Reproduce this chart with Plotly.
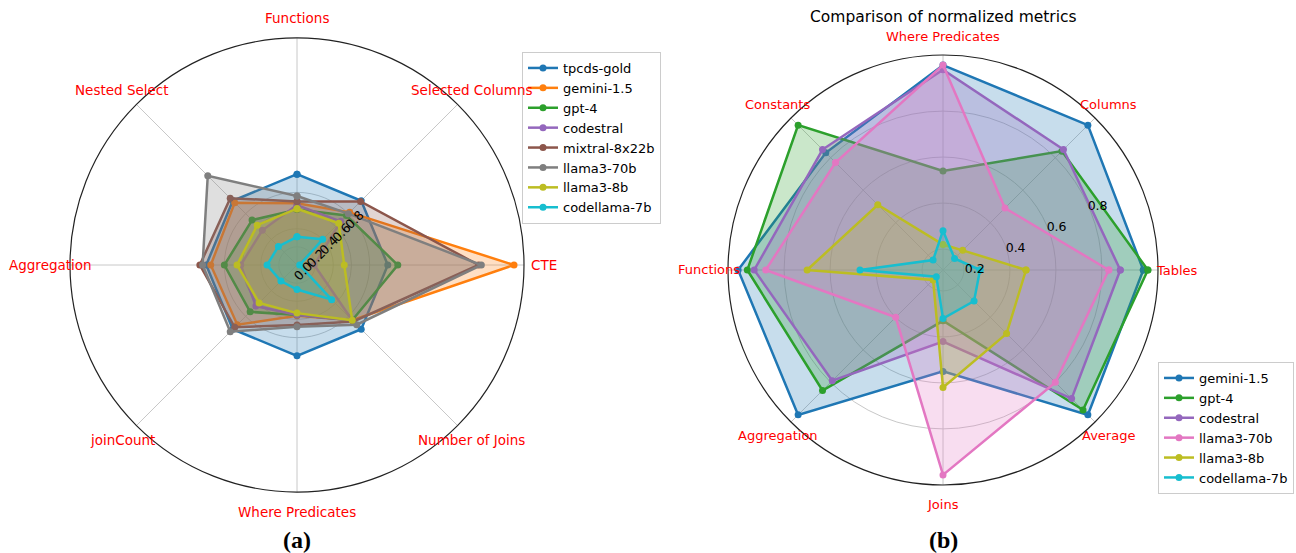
import math
import plotly.graph_objects as go

# ---------------- data: chart (a) ----------------
cats_a = ["Functions", "Selected Columns", "CTE", "Number of Joins",
          "Where Predicates", "joinCount", "Aggregation", "Nested Select"]
models_a = ["tpcds-gold", "gemini-1.5", "gpt-4", "codestral",
            "mixtral-8x22b", "llama3-70b", "llama3-8b", "codellama-7b"]
tpcds_gold_a = [1.0, 1.0, 1.0, 1.0, 1.0, 1.0, 1.0, 1.0]
gemini_a = [0.68, 0.82, 2.39, 0.86, 0.56, 0.93, 0.95, 0.97]
gpt4_a = [0.61, 0.77, 1.11, 0.86, 0.55, 0.73, 0.80, 0.70]
codestral_a = [0.66, 0.68, 0.19, 0.86, 0.55, 0.64, 0.62, 0.54]
mixtral_a = [0.70, 0.99, 2.00, 0.88, 0.66, 0.97, 1.07, 1.04]
llama70_a = [0.76, 0.80, 2.03, 0.93, 0.68, 1.04, 1.04, 1.39]
llama8_a = [0.62, 0.65, 0.52, 0.86, 0.53, 0.59, 0.66, 0.62]
codellama_a = [0.31, 0.40, 0.03, 0.54, 0.27, 0.25, 0.33, 0.29]
values_a = [tpcds_gold_a, gemini_a, gpt4_a, codestral_a,
            mixtral_a, llama70_a, llama8_a, codellama_a]
colors_a = ["#1f77b4", "#ff7f0e", "#2ca02c", "#9467bd",
            "#8c564b", "#7f7f7f", "#bcbd22", "#17becf"]
rticks_a = [0.0, 0.2, 0.4, 0.6, 0.8]
rticktext_a = ["0.0", "0.2", "0.4", "0.6", "0.8"]

# ---------------- data: chart (b) ----------------
cats_b = ["Tables", "Columns", "Where Predicates", "Constants",
          "Functions", "Aggregation", "Joins", "Average"]
models_b = ["gemini-1.5", "gpt-4", "codestral", "llama3-70b",
            "llama3-8b", "codellama-7b"]
gemini_b = [0.98, 1.00, 1.00, 0.83, 1.00, 1.00, 0.55, 1.00]
gpt4_b = [1.00, 0.84, 0.54, 1.00, 0.96, 0.85, 0.33, 0.97]
codestral_b = [0.88, 0.85, 0.98, 0.85, 0.93, 0.79, 0.42, 0.90]
llama70_b = [0.83, 0.49, 1.00, 0.77, 0.88, 0.40, 1.00, 0.80]
llama8_b = [0.47, 0.23, 0.22, 0.51, 0.70, 0.17, 0.62, 0.50]
codellama_b = [0.27, 0.18, 0.28, 0.17, 0.47, 0.15, 0.32, 0.30]
values_b = [gemini_b, gpt4_b, codestral_b, llama70_b, llama8_b, codellama_b]
colors_b = ["#1f77b4", "#2ca02c", "#9467bd", "#e377c2", "#bcbd22", "#17becf"]
rticks_b = [0.2, 0.4, 0.6, 0.8]
rticktext_b = ["0.2", "0.4", "0.6", "0.8"]

W, H = 1296, 553


def rgba(hexc, a):
    h = hexc.lstrip("#")
    r, g, b = int(h[0:2], 16), int(h[2:4], 16), int(h[4:6], 16)
    return f"rgba({r},{g},{b},{a})"


fig = go.Figure()


def add_series(cats, models, values, colors, subplot, legend):
    for name, vals, col in zip(models, values, colors):
        th = cats + [cats[0]]
        rr = vals + [vals[0]]
        fig.add_trace(go.Scatterpolar(
            r=rr, theta=th, mode="none", fill="toself",
            fillcolor=rgba(col, 0.25), showlegend=False, hoverinfo="skip",
            subplot=subplot))
        fig.add_trace(go.Scatterpolar(
            r=rr, theta=th, mode="lines+markers", name=name,
            line=dict(color=col, width=2.5), marker=dict(color=col, size=7),
            subplot=subplot, legend=legend))


add_series(cats_a, models_a, values_a, colors_a, "polar", "legend")
add_series(cats_b, models_b, values_b, colors_b, "polar2", "legend2")

# geometry (pixels)
cxa, cya, Ra = 297, 265, 227
cxb, cyb, Rb = 943, 270, 215


def dom(cx, cy, R):
    return dict(x=[(cx - R) / W, (cx + R) / W],
                y=[(H - cy - R) / H, (H - cy + R) / H])


grid = "#c8c8c8"
rfont_a = dict(family="DejaVu Sans", size=12.5, color="black")
rfont_b = dict(family="DejaVu Sans", size=12.5, color="black")

annotations = []


def cat_labels(cats, cx, cy, rad, start, step, size):
    for i, c in enumerate(cats):
        ang = math.radians(start + step * i)
        x = cx + rad * math.cos(ang)
        y = cy - rad * math.sin(ang)
        annotations.append(dict(
            text=c, x=x / W, y=1 - y / H, xref="paper", yref="paper",
            xanchor="center", yanchor="middle", showarrow=False,
            font=dict(family="DejaVu Sans", size=size, color="red")))


cat_labels(cats_a, cxa, cya, Ra + 20, 90, -45, 13.5)
cat_labels(cats_b, cxb, cyb, Rb + 19, 0, 45, 13)

annotations += [
    dict(text="Comparison of normalized metrics", x=cxb / W, y=1 - 17 / H,
         xref="paper", yref="paper", xanchor="center", yanchor="middle",
         showarrow=False, font=dict(family="DejaVu Sans", size=15.5, color="black")),
    dict(text="<b>(a)</b>", x=cxa / W, y=1 - 540 / H, xref="paper", yref="paper",
         xanchor="center", yanchor="middle", showarrow=False,
         font=dict(family="Liberation Serif", size=24, color="black")),
    dict(text="<b>(b)</b>", x=cxb / W, y=1 - 540 / H, xref="paper", yref="paper",
         xanchor="center", yanchor="middle", showarrow=False,
         font=dict(family="Liberation Serif", size=24, color="black")),
]

fig.update_layout(
    width=W, height=H,
    margin=dict(l=0, r=0, t=0, b=0),
    paper_bgcolor="white",
    font=dict(family="DejaVu Sans", size=12, color="black"),
    polar=dict(
        domain=dom(cxa, cya, Ra),
        bgcolor="white",
        angularaxis=dict(rotation=90, direction="clockwise",
                         categoryorder="array", categoryarray=cats_a,
                         showline=True, linecolor="#222222", linewidth=1.2,
                         gridcolor=grid, gridwidth=1, ticks="",
                         showticklabels=False),
        radialaxis=dict(range=[0, 2.5], tickvals=rticks_a, ticktext=rticktext_a,
                        angle=45, tickangle=0, showline=False, ticks="",
                        gridcolor=grid, gridwidth=1, tickfont=rfont_a),
    ),
    polar2=dict(
        domain=dom(cxb, cyb, Rb),
        bgcolor="white",
        angularaxis=dict(rotation=0, direction="counterclockwise",
                         categoryorder="array", categoryarray=cats_b,
                         showline=True, linecolor="#222222", linewidth=1.2,
                         gridcolor=grid, gridwidth=1, ticks="",
                         showticklabels=False),
        radialaxis=dict(range=[0.109, 1.044], tickvals=rticks_b, ticktext=rticktext_b,
                        angle=27, tickangle=27, showline=False, ticks="",
                        gridcolor=grid, gridwidth=1, tickfont=rfont_b),
    ),
    legend=dict(x=522 / W, y=1 - 52 / H, xanchor="left", yanchor="top",
                bgcolor="white", bordercolor="#cccccc", borderwidth=1,
                font=dict(family="DejaVu Sans", size=13), tracegroupgap=0),
    legend2=dict(x=1158 / W, y=1 - 362 / H, xanchor="left", yanchor="top",
                 bgcolor="white", bordercolor="#cccccc", borderwidth=1,
                 font=dict(family="DejaVu Sans", size=13), tracegroupgap=0),
    annotations=annotations,
)

fig.write_html("out.html")
